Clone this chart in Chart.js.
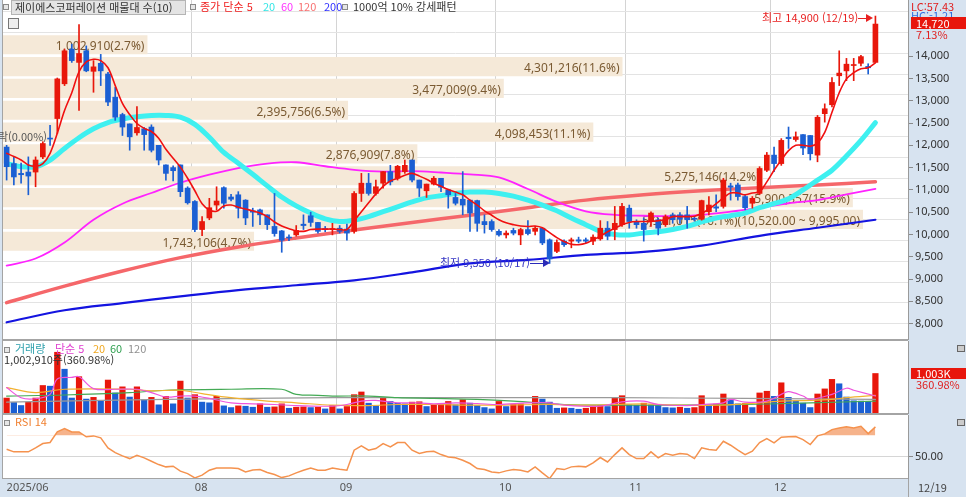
<!DOCTYPE html>
<html lang="ko">
<head>
<meta charset="UTF-8">
<title>제이에스코퍼레이션 매물대</title>
<script src="https://cdn.jsdelivr.net/npm/chart.js@4.4.0/dist/chart.umd.min.js"></script>
<style>
  html, body { margin: 0; padding: 0; }
  body { width: 966px; height: 497px; position: relative; overflow: hidden; background: #d7e3f0;
         font-family: "Noto Sans CJK KR", "Noto Sans", sans-serif; }
  canvas { position: absolute; left: 0; }
  .t { position: absolute; font-size: 11px; line-height: 13px; white-space: nowrap; }
  .sq { position: absolute; width: 4px; height: 4px; border: 1px solid #8a8a8a; background: #e6e6e6; }
  .ln { position: absolute; background: #a4a4a4; }
  .box { position: absolute; background: #e8160c; color: #fff; font-size: 11px; line-height: 12px; padding-left: 5px; box-sizing: border-box; }
</style>
</head>
<body>
<canvas id="bandChart" width="966" height="340" style="top:0"></canvas>
<canvas id="priceChart" width="966" height="340" style="top:0"></canvas>
<canvas id="volChart" width="966" height="74" style="top:340px"></canvas>
<canvas id="rsiChart" width="966" height="83" style="top:414px"></canvas>

<!-- pane frames -->
<div class="ln" style="left:2px;top:0;width:1px;height:479px"></div>
<div class="ln" style="left:2px;top:339px;width:906px;height:2px"></div>
<div class="ln" style="left:2px;top:413px;width:906px;height:2px"></div>
<div class="ln" style="left:2px;top:478px;width:906px;height:1px"></div>
<div class="ln" style="left:908px;top:479px;width:1px;height:18px"></div>

<!-- price pane legend -->
<div class="sq" style="left:3px;top:4px"></div>
<div class="t" style="left:11px;top:0;width:170px;height:13px;background:#e4e4e4;border:1px solid #b4b4b4;color:#333;padding-left:3px">제이에스코퍼레이션 매물대 수(10)</div>
<div class="sq" style="left:190px;top:4px"></div>
<div class="t" style="left:200px;top:0;color:#f02020">종가 단순 5</div>
<div class="t" style="left:263px;top:0;color:#33e6e6">20</div>
<div class="t" style="left:281px;top:0;color:#ff33ff">60</div>
<div class="t" style="left:298px;top:0;color:#f87070">120</div>
<div class="t" style="left:324px;top:0;color:#3030ff">200</div>
<div class="sq" style="left:342px;top:4px"></div>
<div class="t" style="left:353px;top:0;color:#333">1000억 10% 강세패턴</div>
<div style="position:absolute;left:8px;top:18px;width:9px;height:9px;border:1px solid #777;background:#eee"></div>
<div class="t" style="right:919px;top:130px;color:#555">하락(0.00%)</div>

<!-- price annotations -->
<div class="t" style="left:762px;top:11px;color:#e82020">최고 14,900 (12/19)</div>
<div style="position:absolute;left:858px;top:18px;width:10px;height:1px;background:#e82020"></div>
<div style="position:absolute;left:866px;top:14px;width:0;height:0;border-left:7px solid #e82020;border-top:4px solid transparent;border-bottom:4px solid transparent"></div>
<div class="t" style="left:440px;top:256px;color:#3434c4">최저 9,350 (10/17)</div>
<div style="position:absolute;left:530px;top:263px;width:15px;height:1px;background:#2a2ab8"></div>
<div style="position:absolute;left:543px;top:259px;width:0;height:0;border-left:7px solid #2a2ab8;border-top:4px solid transparent;border-bottom:4px solid transparent"></div>

<!-- price axis extras -->
<div class="t" style="left:911px;top:0;color:#e02020">LC:57.43</div>
<div class="t" style="left:911px;top:9px;color:#3070e0">HC:-1.21</div>
<div class="box" style="left:911px;top:17px;width:55px;height:12px">14,720</div>
<div class="t" style="left:916px;top:28px;color:#e02020">7.13%</div>

<!-- volume pane legend -->
<div class="sq" style="left:4px;top:347px"></div>
<div class="t" style="left:15px;top:342px;color:#2fa0ac">거래량</div>
<div class="t" style="left:55px;top:342px;color:#e040d0">단순 5</div>
<div class="t" style="left:93px;top:342px;color:#f0a820">20</div>
<div class="t" style="left:110px;top:342px;color:#30a050">60</div>
<div class="t" style="left:128px;top:342px;color:#909090">120</div>
<div class="t" style="left:4px;top:353px;color:#333">1,002,910주(360.98%)</div>
<div class="box" style="left:911px;top:368px;width:55px;height:11px;line-height:11px">1,003K</div>
<div class="t" style="left:916px;top:378px;color:#e02020">360.98%</div>
<div style="position:absolute;left:957px;top:345px;width:6px;height:5px;border:1px solid #666;background:#ccc"></div>

<!-- rsi pane legend -->
<div class="sq" style="left:4px;top:420px"></div>
<div class="t" style="left:15px;top:415px;color:#f08030">RSI 14</div>
<div style="position:absolute;left:957px;top:419px;width:6px;height:5px;border:1px solid #666;background:#ccc"></div>
<div class="t" style="left:918px;top:481px;color:#444">12/19</div>

<script>
// trading days shown on the chart (2025)
const daysJun = [26, 27, 30];
const daysJul = [1, 2, 3, 4, 7, 8, 9, 10, 11, 14, 15, 16, 17, 18, 21, 22, 23, 24, 25, 28, 29, 30, 31];
const daysAug = [1, 4, 5, 6, 7, 8, 11, 12, 13, 14, 18, 19, 20, 21, 22, 25, 26, 27, 28, 29];
const daysSep = [1, 2, 3, 4, 5, 8, 9, 10, 11, 12, 15, 16, 17, 18, 19, 22, 23, 24, 25, 26, 29, 30];
const daysOct = [1, 2, 10, 13, 14, 15, 16, 17, 20, 21, 22, 23, 24, 27, 28, 29, 30, 31];
const daysNov = [3, 4, 5, 6, 7, 10, 11, 12, 13, 14, 17, 18, 19, 20, 21, 24, 25, 26, 27, 28];
const daysDec = [1, 2, 3, 4, 5, 8, 9, 10, 11, 12, 15, 16, 17, 18, 19];
const blankSlots = 4;
const axisMonths = ['08', '09', '10', '11', '12'];

// price axis ticks (labels shown from 8,000 to 14,000)
const priceTicks = [8000, 8500, 9000, 9500, 10000, 10500, 11000, 11500, 12000, 12500, 13000, 13500, 14000, 14500, 15000];
const priceLabelMax = 14000;

// daily candles
const open = [11960,11590,11370,11400,11400,11740,12160,12600,13380,14160,
  13860,14120,13660,13840,13600,13080,12690,12480,12280,12370,
  12410,12000,11560,11500,11560,11040,10740,10110,10370,10660,
  11050,10840,10890,10770,10530,10550,10440,10180,10080,9940,
  9990,10230,10420,10270,10130,10110,10140,10120,10070,10920,
  11150,10920,11150,11410,11260,11410,11670,11220,10980,11130,
  11260,11000,10830,10790,10770,10760,10290,10290,10070,9990,
  10090,9990,10110,10070,10140,9880,9620,9850,9850,9880,
  9880,9850,9900,10140,10110,10220,10590,10290,10250,10290,
  10330,10220,10440,10440,10440,10360,10340,10510,10620,10630,
  11090,11110,10850,10700,10920,11440,11780,11590,12180,12130,
  12240,12220,11780,12710,12910,13560,13670,13790,13840,13770,
  13860];
const high = [12000,11750,11600,11740,11740,12080,12450,13510,14160,14270,
  14710,14230,13900,14040,13640,13300,12720,12480,12870,12400,
  12460,12000,11560,11540,11560,11070,10760,10400,10810,11070,
  11070,10900,10960,10780,10590,10570,10440,10920,10090,9990,
  10200,10440,10500,10270,10180,10250,10200,10230,10960,11370,
  11370,11220,11410,11550,11550,11670,11670,11220,11130,11300,
  11260,11000,10920,11410,10770,10770,10440,10330,10110,10080,
  10140,10140,10310,10180,10140,9900,9880,9880,9920,9940,
  9920,9990,10310,10290,10630,10700,10660,10330,10370,10510,
  10370,10440,10480,10490,10630,10400,10770,10850,10890,11260,
  11150,11150,10890,10850,11520,11840,11960,12150,12410,12300,
  12240,12220,12670,12930,13520,14120,13950,13950,14020,13830,
  14900];
const low = [11220,11110,11150,10890,11070,11700,12000,12260,13340,13860,
  12780,13650,13190,13340,12890,12560,12220,11890,12230,11890,
  11850,11560,11220,11200,10850,10680,10060,9970,10330,10550,
  10590,10750,10370,10220,10180,10220,10110,9960,9600,9860,
  9960,10110,10180,10030,10060,9990,10030,9870,10030,10740,
  10880,10880,11040,11110,11220,11370,11180,10850,10830,11110,
  10960,10590,10660,10440,10070,10070,10030,10070,9960,9920,
  9990,9770,9990,9990,9770,9350,9590,9730,9700,9810,
  9810,9770,9870,9880,9880,10180,10140,10140,9850,10180,
  9990,10180,10250,10250,10140,10300,10320,10440,10510,10590,
  10770,10770,10550,10590,10890,11410,11410,11550,11930,12090,
  11790,11670,11630,12520,12860,13340,13450,13450,13780,13600,
  13860];
const close = [11520,11290,11340,11310,11670,12040,12140,13490,14120,13900,
  14060,13670,13760,13670,12970,12630,12410,12190,12400,12240,
  11890,11670,11370,11430,10960,10710,10110,10290,10600,10750,
  10700,10790,10590,10370,10500,10440,10220,10020,9870,9920,
  10090,10200,10270,10070,10110,10130,10070,10030,10920,11150,
  10920,11070,11410,11180,11530,11550,11220,11040,11130,11260,
  11060,10890,10700,10660,10480,10250,10220,10110,9990,10030,
  10030,10110,10020,10140,9810,9450,9820,9770,9880,9850,
  9850,9940,10140,9960,10250,10630,10290,10220,10110,10480,
  10140,10400,10330,10340,10330,10340,10760,10660,10590,11220,
  11060,10850,10600,10810,11480,11780,11590,12110,12150,12190,
  11940,11810,12630,12820,13410,13620,13820,13810,13990,13740,
  14720];

// price moving averages
const ma5 = [11820,11750,11670,11560,11530,11590,11820,12270,12780,13180,
  13650,13870,13930,13900,13740,13340,12940,12690,12490,12380,
  12310,12160,11910,11710,11510,11260,10980,10690,10550,10520,
  10640,10660,10610,10570,10530,10480,10400,10280,10190,10130,
  10080,10070,10110,10120,10120,10120,10110,10110,10310,10510,
  10710,10910,11080,11200,11260,11330,11370,11310,11240,11150,
  11080,11010,10950,10890,10770,10660,10530,10430,10330,10260,
  10220,10190,10180,10190,10150,10040,9930,9840,9780,9770,
  9800,9880,9960,10060,10140,10220,10270,10290,10290,10290,
  10310,10330,10400,10400,10400,10410,10470,10570,10690,10820,
  10930,10930,10890,10930,10960,11180,11440,11670,11880,12000,
  12000,11980,12050,12290,12740,13180,13490,13630,13720,13740,
  13850];
const ma20Pts = [[0,11590],[2,11520],[4,11520],[6,11670],[8,11930],[10,12170],[12,12370],[14,12510],
  [16,12590],[18,12640],[20,12670],[22,12670],[24,12630],[26,12470],[28,12180],[30,11840],[32,11600],
  [34,11350],[36,11090],[38,10840],[40,10640],[42,10480],[44,10350],[46,10290],[48,10320],[50,10400],
  [52,10510],[54,10620],[56,10730],[58,10820],[60,10870],[62,10920],[64,10950],[66,10950],[68,10920],
  [70,10860],[72,10770],[74,10660],[76,10530],[78,10370],[80,10220],[82,10070],[84,10000],[86,9990],
  [88,10030],[90,10060],[92,10110],[94,10180],[96,10280],[98,10370],[100,10420],[102,10480],[104,10600],
  [106,10690],[108,10800],[110,11000],[112,11220],[114,11440],[116,11760],[118,12110],[120,12510]];
const ma60Pts = [[0,9300],[4,9460],[8,9820],[12,10330],[16,10690],[20,10930],[24,11160],[28,11340],
  [32,11490],[36,11590],[40,11620],[44,11530],[48,11450],[52,11410],[56,11420],[60,11390],[64,11350],
  [68,11280],[72,11020],[76,10730],[80,10520],[84,10440],[88,10420],[92,10410],[96,10440],[100,10510],
  [104,10600],[108,10700],[112,10770],[116,10900],[120,11020]];
const ma120Pts = [[0,8470],[8,8840],[16,9180],[24,9480],[32,9720],[40,9920],[48,10100],[56,10270],
  [64,10430],[72,10600],[80,10770],[88,10890],[96,10980],[104,11050],[112,11110],[120,11180]];
const ma200Pts = [[0,8030],[8,8300],[16,8460],[24,8610],[32,8750],[40,8860],[48,8970],[56,9150],
  [64,9350],[72,9430],[80,9540],[88,9610],[96,9750],[104,9970],[112,10150],[120,10330]];

// 매물대 (volume by price), bottom band first
const bandLow = [9470, 9995, 10520, 11045, 11570, 12095, 12620, 13145, 13670, 14195];
const bandStep = 525;
const bandVolume = [1743106, 5971015, 5900357, 5275146, 2876909, 4098453, 2395756, 3477009, 4301216, 1002910];
const bandPct = [4.7, 16.1, 15.9, 14.2, 7.8, 11.1, 6.5, 9.4, 11.6, 2.7];

// volume
const volume = [385000,274000,197000,282000,385000,701000,684000,1538000,1111000,385000,
  923000,359000,402000,316000,838000,513000,667000,410000,667000,342000,
  402000,214000,427000,239000,812000,385000,470000,282000,265000,427000,
  188000,145000,188000,179000,154000,239000,154000,162000,239000,128000,
  154000,162000,145000,154000,111000,197000,111000,171000,470000,538000,
  256000,188000,402000,299000,256000,239000,282000,291000,171000,214000,
  222000,299000,214000,342000,256000,197000,145000,111000,299000,171000,
  231000,239000,171000,427000,359000,282000,128000,137000,128000,103000,
  128000,188000,197000,171000,385000,444000,214000,205000,256000,214000,
  197000,145000,137000,154000,128000,145000,444000,197000,231000,487000,
  342000,239000,248000,145000,513000,556000,427000,769000,402000,316000,
  256000,145000,487000,615000,855000,744000,410000,316000,308000,299000,
  1002910];
const volMa5Pts = [[0,641000],[2,385000],[4,359000],[6,470000],[7,855000],[9,897000],[10,915000],[12,615000],
  [15,598000],[18,598000],[20,513000],[22,402000],[24,427000],[26,427000],[28,368000],[31,256000],
  [34,231000],[37,214000],[40,188000],[45,171000],[47,214000],[49,299000],[51,316000],[54,256000],
  [57,256000],[59,231000],[62,256000],[65,239000],[68,214000],[72,256000],[75,256000],[77,197000],
  [82,171000],[85,282000],[88,299000],[90,214000],[94,188000],[96,214000],[99,256000],[100,342000],
  [102,274000],[105,299000],[107,470000],[108,538000],[110,427000],[111,342000],[114,470000],
  [116,624000],[117,573000],[120,427000]];
const volMa20Pts = [[0,641000],[4,513000],[8,598000],[17,598000],[20,556000],[24,573000],[27,487000],
  [31,385000],[36,299000],[40,256000],[45,197000],[50,188000],[54,214000],[59,214000],[65,197000],
  [75,214000],[79,197000],[84,214000],[88,231000],[93,197000],[98,197000],[102,231000],[107,299000],
  [111,316000],[114,342000],[116,385000],[120,444000]];
const volMa60Pts = [[0,427000],[8,453000],[17,513000],[22,573000],[31,598000],[38,598000],[40,470000],
  [43,444000],[45,427000],[50,427000],[54,385000],[59,368000],[65,342000],[70,299000],[77,214000],
  [84,197000],[93,197000],[102,214000],[111,256000],[120,299000]];
const volMa120Pts = [[0,274000],[22,342000],[45,385000],[65,385000],[84,385000],[102,368000],[120,342000]];

// RSI 14
const rsi = [56.9,54.4,54.4,54.4,58.2,62.3,63.3,73.4,76.6,73.4,
  73.4,68.7,69.6,67.7,58.2,53.7,50.6,48.0,51.2,48.7,
  45.5,42.3,40.1,40.7,36.0,33.7,29.6,32.2,36.9,39.1,
  39.1,39.1,38.5,35.3,37.2,37.5,34.7,32.8,29.9,31.5,
  34.4,36.9,39.1,36.9,36.9,39.1,37.9,36.9,56.0,60.1,
  56.0,57.6,62.3,59.1,63.3,63.3,56.0,52.8,54.4,55.0,
  51.8,49.6,48.7,46.4,43.3,38.5,37.5,35.3,34.4,36.3,
  37.5,36.9,35.3,40.1,34.4,29.0,38.5,37.5,40.1,40.7,
  40.1,43.9,49.0,44.8,51.8,58.2,51.8,48.0,48.0,54.4,
  48.7,52.8,51.2,52.8,52.2,48.0,58.2,56.6,56.0,64.5,
  60.7,56.0,51.8,55.0,63.3,67.1,63.0,68.3,68.7,69.0,
  66.1,61.4,69.6,71.5,75.6,77.2,78.2,77.2,78.8,71.8,
  78.2];
const rsiLevels = [30, 50, 70];
const volumeTicks = [1000000];

// ---- build labels / helpers ----
const UP = '#e8170b', DOWN = '#1b5fd3';
const months = [['06', daysJun], ['07', daysJul], ['08', daysAug], ['09', daysSep],
                ['10', daysOct], ['11', daysNov], ['12', daysDec]];
const labels = [];
const tickText = {};
months.forEach(([m, days]) => {
  days.forEach((d, k) => {
    if (labels.length === 0) tickText[0] = '2025/06';
    else if (k === 0 && axisMonths.includes(m)) tickText[labels.length] = m;
    labels.push(m + '/' + String(d).padStart(2, '0'));
  });
});
for (let i = 0; i < blankSlots; i++) labels.push('');
const monthLines = new Set(Object.keys(tickText).map(Number));
const N = open.length;

function sparse(pts) {
  const a = new Array(N).fill(null);
  pts.forEach(([i, v]) => { a[i] = v; });
  return a;
}
const candleColors = close.map((c, i) => (c >= open[i] ? UP : DOWN));
const volColors = volume.map((v, i) => (i === 0 || v > volume[i - 1] ? UP : DOWN));

function fixY(s) { s.width = 58; s.paddingTop = 0; s.paddingBottom = 0; }
function fixX(s) { s.height = 19; s.paddingLeft = 0; s.paddingRight = 0; }
function fixNone(s) { s.height = 0; s.paddingLeft = 0; s.paddingRight = 0; }
const setTicks = list => s => { s.ticks = list.map(v => ({ value: v })); };

const monthGrid = c => (monthLines.has(c.index) && c.index > 0 ? '#d4d4d4' : 'rgba(0,0,0,0)');
const PRICE_MIN = 7632, PRICE_MAX = 15260;

Chart.defaults.font.family = '"Noto Sans", "Noto Sans CJK KR", sans-serif';
Chart.defaults.font.size = 11;
Chart.defaults.animation = false;
Chart.defaults.plugins.legend.display = false;
Chart.defaults.plugins.tooltip.enabled = false;

const paneWhite = {
  id: 'paneWhite',
  beforeDraw(chart) {
    const { ctx, chartArea: a } = chart;
    ctx.save();
    ctx.fillStyle = '#ffffff';
    ctx.fillRect(a.left, a.top, a.right - a.left, a.bottom - a.top);
    ctx.restore();
  }
};

const maxBand = bandVolume.indexOf(Math.max(...bandVolume));
const fmt2 = v => v.toLocaleString('en-US', { minimumFractionDigits: 2, maximumFractionDigits: 2 });
function bandLabel(i) {
  let s = bandVolume[i].toLocaleString('en-US') + '(' + bandPct[i].toFixed(1) + '%)';
  if (i === maxBand) s += '(' + fmt2(bandLow[i] + bandStep) + ' ~ ' + fmt2(bandLow[i]) + ')';
  return s;
}
const bandText = {
  id: 'bandText',
  afterDatasetsDraw(chart) {
    const { ctx } = chart;
    const meta = chart.getDatasetMeta(0);
    ctx.save();
    ctx.font = '12px "Noto Sans", sans-serif';
    ctx.fillStyle = '#7a5a32';
    ctx.textAlign = 'right';
    ctx.textBaseline = 'middle';
    meta.data.forEach((bar, i) => ctx.fillText(bandLabel(i), bar.x - 3, bar.y + 2));
    ctx.restore();
  }
};

// ---- 매물대 background + price grid ----
new Chart(document.getElementById('bandChart'), {
  type: 'bar',
  data: {
    labels: labels,
    datasets: [{
      data: bandLow.map((lo, i) => ({ x: bandVolume[i], y: lo + bandStep / 2 })),
      backgroundColor: '#f5e9d8',
      xAxisID: 'xv', yAxisID: 'y',
      barPercentage: 0.92, categoryPercentage: 1
    }]
  },
  options: {
    indexAxis: 'y',
    responsive: false,
    layout: { padding: { left: 3 } },
    scales: {
      xv: { type: 'linear', axis: 'x', position: 'bottom', display: false, min: 0, max: 6283400 },
      xc: { type: 'category', axis: 'x', position: 'top', offset: true,
            ticks: { display: false }, border: { display: false },
            grid: { offset: true, drawTicks: false, color: monthGrid }, afterFit: fixNone },
      y: { type: 'linear', position: 'right', min: PRICE_MIN, max: PRICE_MAX,
           afterBuildTicks: setTicks(priceTicks),
           ticks: { display: false },
           grid: { color: '#e3e3e3', drawTicks: false }, border: { display: false }, afterFit: fixY }
    }
  },
  plugins: [paneWhite, bandText]
});

// ---- candles and moving averages ----
const maLine = (data, color, width, order) => ({
  type: 'line', data: data, borderColor: color, borderWidth: width, pointRadius: 0,
  spanGaps: true, tension: 0.35, order: order, borderJoinStyle: 'round', borderCapStyle: 'round'
});
new Chart(document.getElementById('priceChart'), {
  type: 'bar',
  data: {
    labels: labels,
    datasets: [
      maLine(ma5, '#f01010', 1.6, 0),
      { type: 'bar', data: open.map((o, i) => [o, close[i]]), backgroundColor: candleColors,
        barThickness: 5, minBarLength: 1, grouped: false, order: 1 },
      { type: 'bar', data: low.map((l, i) => [l, high[i]]), backgroundColor: candleColors,
        barThickness: 1, grouped: false, order: 2 },
      maLine(sparse(ma20Pts), '#3ef0f0', 5, 3),
      maLine(sparse(ma60Pts), '#ff22ff', 1.8, 4),
      maLine(sparse(ma120Pts), '#f5676a', 3.5, 5),
      maLine(sparse(ma200Pts), '#1414e0', 2.2, 6)
    ]
  },
  options: {
    responsive: false,
    layout: { padding: { left: 3 } },
    scales: {
      x: { type: 'category', offset: true, display: false },
      y: { position: 'right', min: PRICE_MIN, max: PRICE_MAX,
           afterBuildTicks: setTicks(priceTicks),
           ticks: { padding: 2, color: '#333', font: { size: 11 },
                    callback: v => (v <= priceLabelMax ? v.toLocaleString('en-US') : null) },
           grid: { drawOnChartArea: false, tickLength: 5, tickColor: '#8a8a8a' },
           border: { color: '#9a9a9a' }, afterFit: fixY }
    }
  }
});

// ---- volume ----
new Chart(document.getElementById('volChart'), {
  type: 'bar',
  data: {
    labels: labels,
    datasets: [
      maLine(sparse(volMa5Pts), '#ee55dd', 1.2, 0),
      maLine(sparse(volMa20Pts), '#f2b230', 1.2, 1),
      maLine(sparse(volMa60Pts), '#44aa55', 1.2, 2),
      maLine(sparse(volMa120Pts), '#9a9a9a', 1.2, 3),
      { type: 'bar', data: volume, backgroundColor: volColors, barPercentage: 0.86,
        categoryPercentage: 1, order: 5 }
    ]
  },
  options: {
    responsive: false,
    layout: { padding: { left: 3, top: 1, bottom: 1 } },
    scales: {
      x: { type: 'category', offset: true, display: true,
           ticks: { display: false }, border: { display: false },
           grid: { offset: true, drawTicks: false, color: monthGrid }, afterFit: fixNone },
      y: { position: 'right', min: 0, max: 1813000,
           afterBuildTicks: setTicks(volumeTicks),
           ticks: { callback: () => null },
           grid: { color: '#e2e2e2', tickLength: 4, tickColor: '#8a8a8a' },
           border: { color: '#9a9a9a' }, afterFit: fixY }
    }
  },
  plugins: [paneWhite]
});

// ---- RSI ----
new Chart(document.getElementById('rsiChart'), {
  type: 'line',
  data: {
    labels: labels,
    datasets: [{
      data: rsi, borderColor: '#f5924e', borderWidth: 1.5, pointRadius: 0, tension: 0,
      fill: { target: { value: 70 }, above: 'rgba(244,160,110,0.8)', below: 'rgba(0,0,0,0)' }
    }]
  },
  options: {
    responsive: false,
    layout: { padding: { left: 3, top: 1 } },
    scales: {
      x: { type: 'category', offset: true, position: 'bottom',
           ticks: { autoSkip: false, maxRotation: 0, minRotation: 0, align: 'start', padding: -16,
                    color: '#555', font: { size: 11 }, callback: (v, i) => tickText[i] ?? null },
           grid: { offset: true, tickLength: 19, color: monthGrid,
                   tickColor: c => (monthLines.has(c.index) ? '#a8a8a8' : 'rgba(0,0,0,0)') },
           border: { display: false }, afterFit: fixX },
      y: { position: 'right', min: 29.5, max: 89.5,
           afterBuildTicks: setTicks(rsiLevels),
           ticks: { padding: 2, color: '#333', font: { size: 11 },
                    callback: v => (v === 50 ? '50.00' : null) },
           grid: { color: c => (c.tick && c.tick.value === 50 ? '#d6d6d6' : '#a4a4a4'),
                   lineWidth: c => (c.tick && c.tick.value === 50 ? 1 : 2),
                   tickLength: 5, tickColor: '#8a8a8a' },
           border: { color: '#9a9a9a' }, afterFit: fixY }
    }
  },
  plugins: [paneWhite]
});
</script>
</body>
</html>
